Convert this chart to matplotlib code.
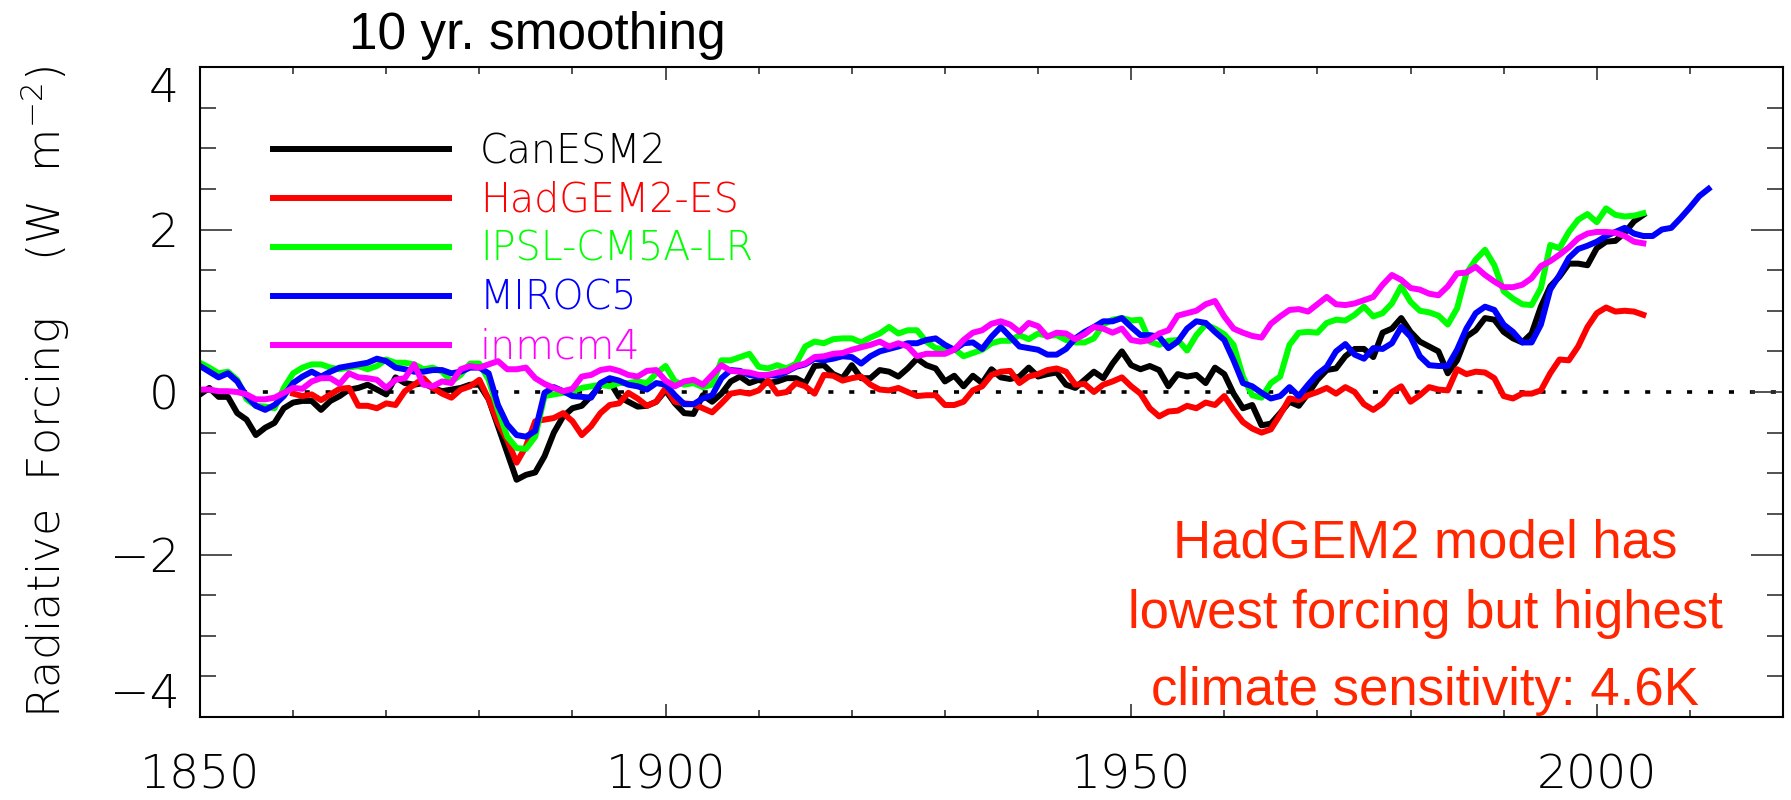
import numpy as np
import matplotlib.pyplot as plt
from matplotlib.ticker import MultipleLocator

plt.rcParams['font.family'] = ['DejaVu Sans']
plt.rcParams['font.weight'] = 'light'

# 10-year smoothed radiative forcing (W m-2), one value per year
can = [-0.03, 0.05, -0.06, -0.06, -0.26, -0.34, -0.53, -0.44, -0.38, -0.20,
       -0.13, -0.11, -0.11, -0.22, -0.11, -0.05, 0.03, 0.05, 0.09, 0.03,
       -0.03, 0.18, 0.11, 0.09, 0.11, 0.05, 0.01, 0.03, 0.05, 0.09,
       0.09, -0.09, -0.42, -0.75, -1.08, -1.02, -0.99, -0.79, -0.50, -0.30,
       -0.20, -0.17, -0.05, 0.08, 0.13, -0.06, -0.12, -0.18, -0.17, -0.12,
       0.02, -0.14, -0.26, -0.27, -0.04, -0.12, -0.02, 0.13, 0.19, 0.11,
       0.15, 0.11, 0.13, 0.17, 0.17, 0.11, 0.32, 0.33, 0.22, 0.17,
       0.33, 0.17, 0.17, 0.27, 0.25, 0.19, 0.29, 0.41, 0.33, 0.29,
       0.13, 0.20, 0.07, 0.20, 0.11, 0.28, 0.18, 0.16, 0.19, 0.30,
       0.19, 0.22, 0.24, 0.09, 0.05, 0.15, 0.25, 0.17, 0.35, 0.50,
       0.33, 0.28, 0.32, 0.27, 0.07, 0.22, 0.19, 0.21, 0.11, 0.30,
       0.22, -0.02, -0.20, -0.16, -0.41, -0.39, -0.26, -0.12, -0.17, -0.02,
       0.15, 0.27, 0.29, 0.44, 0.53, 0.53, 0.43, 0.73, 0.78, 0.91,
       0.74, 0.62, 0.56, 0.50, 0.23, 0.39, 0.68, 0.76, 0.91, 0.89,
       0.74, 0.66, 0.61, 0.72, 1.05, 1.30, 1.42, 1.58, 1.58, 1.56,
       1.77, 1.85, 1.86, 1.96, 2.10, 2.18]

# HadGEM2-ES starts in 1860
had = [-0.02, -0.05, -0.03, -0.10, -0.03, 0.04, 0.05, -0.17, -0.17, -0.20,
       -0.14, -0.16, 0.01, 0.09, 0.17, 0.05, -0.02, -0.07, 0.03, 0.07,
       0.15, -0.09, -0.38, -0.59, -0.87, -0.67, -0.36, -0.34, -0.32, -0.26,
       -0.36, -0.53, -0.42, -0.26, -0.16, -0.14, -0.01, -0.08, -0.17, -0.12,
       0.05, -0.12, -0.14, -0.15, -0.20, -0.25, -0.14, -0.02, 0.00, -0.02,
       0.02, 0.14, -0.02, 0.00, 0.11, 0.07, -0.02, 0.21, 0.20, 0.14,
       0.17, 0.19, 0.09, 0.03, 0.02, 0.05, 0.00, -0.05, -0.04, -0.04,
       -0.16, -0.16, -0.12, 0.02, 0.07, 0.21, 0.25, 0.26, 0.11, 0.19,
       0.22, 0.27, 0.29, 0.25, 0.09, 0.10, 0.00, 0.09, 0.13, 0.18,
       0.07, -0.02, -0.20, -0.30, -0.24, -0.23, -0.17, -0.20, -0.13, -0.16,
       -0.05, -0.22, -0.37, -0.45, -0.50, -0.46, -0.28, -0.08, -0.10, -0.04,
       0.00, 0.05, -0.02, 0.06, 0.00, -0.15, -0.22, -0.14, 0.00, 0.07,
       -0.12, -0.04, 0.06, 0.03, 0.02, 0.28, 0.22, 0.25, 0.24, 0.17,
       -0.05, -0.08, -0.02, -0.02, 0.02, 0.23, 0.40, 0.39, 0.56, 0.80,
       0.97, 1.04, 0.99, 1.00, 0.99, 0.95]

ipsl = [0.36, 0.30, 0.23, 0.25, 0.15, -0.09, -0.17, -0.18, -0.20, 0.05,
        0.23, 0.30, 0.34, 0.34, 0.30, 0.28, 0.30, 0.32, 0.28, 0.32,
        0.40, 0.36, 0.36, 0.34, 0.28, 0.30, 0.25, 0.13, 0.21, 0.35,
        0.35, 0.15, -0.22, -0.55, -0.69, -0.70, -0.55, -0.05, -0.03, -0.01,
        0.01, 0.05, 0.07, 0.09, 0.07, 0.11, 0.11, 0.13, 0.11, 0.23,
        0.32, 0.13, 0.09, 0.11, 0.06, 0.09, 0.39, 0.39, 0.43, 0.47,
        0.31, 0.29, 0.33, 0.29, 0.35, 0.56, 0.62, 0.60, 0.65, 0.66,
        0.66, 0.61, 0.67, 0.72, 0.80, 0.72, 0.76, 0.76, 0.62, 0.54,
        0.53, 0.53, 0.44, 0.48, 0.52, 0.60, 0.63, 0.63, 0.70, 0.65,
        0.72, 0.69, 0.70, 0.64, 0.61, 0.61, 0.66, 0.83, 0.89, 0.91,
        0.88, 0.89, 0.62, 0.58, 0.63, 0.64, 0.51, 0.70, 0.83, 0.78,
        0.71, 0.58, 0.19, -0.04, -0.07, 0.11, 0.19, 0.58, 0.73, 0.74,
        0.73, 0.85, 0.89, 0.88, 0.95, 1.05, 0.93, 0.97, 1.09, 1.30,
        1.11, 1.00, 0.98, 0.94, 0.83, 1.03, 1.46, 1.63, 1.75, 1.56,
        1.24, 1.15, 1.08, 1.07, 1.28, 1.81, 1.77, 1.97, 2.12, 2.19,
        2.09, 2.26, 2.18, 2.16, 2.17, 2.20]

# MIROC5 runs on to 2012
miroc = [0.32, 0.25, 0.18, 0.23, 0.13, -0.05, -0.17, -0.22, -0.16, -0.05,
         0.11, 0.19, 0.25, 0.19, 0.25, 0.30, 0.32, 0.34, 0.36, 0.41,
         0.38, 0.30, 0.28, 0.25, 0.25, 0.27, 0.27, 0.23, 0.25, 0.30,
         0.30, 0.23, -0.16, -0.40, -0.53, -0.55, -0.48, -0.01, 0.06, 0.01,
         -0.05, -0.06, -0.07, 0.11, 0.17, 0.14, 0.09, 0.07, 0.03, 0.11,
         0.09, -0.04, -0.15, -0.15, -0.08, -0.04, 0.17, 0.27, 0.26, 0.21,
         0.19, 0.21, 0.20, 0.25, 0.31, 0.34, 0.41, 0.39, 0.41, 0.44,
         0.43, 0.35, 0.44, 0.50, 0.53, 0.56, 0.60, 0.60, 0.64, 0.66,
         0.58, 0.52, 0.60, 0.61, 0.53, 0.68, 0.80, 0.68, 0.56, 0.54,
         0.52, 0.46, 0.46, 0.53, 0.66, 0.74, 0.80, 0.87, 0.87, 0.91,
         0.80, 0.70, 0.70, 0.68, 0.54, 0.62, 0.78, 0.87, 0.85, 0.74,
         0.64, 0.39, 0.11, 0.07, -0.01, -0.08, -0.05, 0.06, -0.05, 0.09,
         0.22, 0.31, 0.50, 0.59, 0.46, 0.41, 0.54, 0.53, 0.60, 0.80,
         0.68, 0.44, 0.33, 0.32, 0.32, 0.52, 0.78, 0.97, 1.05, 1.01,
         0.83, 0.74, 0.61, 0.61, 0.83, 1.26, 1.44, 1.65, 1.76, 1.80,
         1.85, 1.92, 1.97, 2.02, 1.95, 1.92, 1.92, 2.00, 2.02, 2.14,
         2.27, 2.41, 2.50]

inm = [0.03, 0.03, 0.01, 0.01, 0.00, -0.03, -0.09, -0.09, -0.07, -0.01,
       0.05, 0.04, 0.13, 0.17, 0.17, 0.10, 0.23, 0.18, 0.17, 0.15,
       0.05, 0.15, 0.17, 0.34, 0.09, 0.07, 0.13, 0.11, 0.28, 0.32,
       0.30, 0.34, 0.38, 0.28, 0.28, 0.30, 0.17, 0.10, 0.05, 0.01,
       0.04, 0.19, 0.21, 0.27, 0.29, 0.26, 0.21, 0.19, 0.26, 0.27,
       0.14, 0.07, 0.13, 0.15, 0.09, 0.21, 0.33, 0.26, 0.25, 0.24,
       0.21, 0.21, 0.24, 0.26, 0.32, 0.35, 0.43, 0.44, 0.47, 0.48,
       0.52, 0.55, 0.58, 0.62, 0.56, 0.60, 0.56, 0.44, 0.47, 0.47,
       0.47, 0.52, 0.64, 0.73, 0.76, 0.84, 0.87, 0.83, 0.74, 0.85,
       0.81, 0.68, 0.73, 0.72, 0.65, 0.71, 0.80, 0.78, 0.73, 0.78,
       0.64, 0.62, 0.64, 0.72, 0.76, 0.94, 0.97, 1.00, 1.08, 1.12,
       0.93, 0.78, 0.73, 0.69, 0.67, 0.84, 0.93, 1.01, 1.02, 0.99,
       1.08, 1.17, 1.08, 1.07, 1.09, 1.13, 1.17, 1.32, 1.44, 1.38,
       1.28, 1.26, 1.21, 1.19, 1.30, 1.46, 1.47, 1.54, 1.44, 1.36,
       1.29, 1.29, 1.32, 1.40, 1.55, 1.61, 1.69, 1.78, 1.89, 1.95,
       1.97, 1.97, 1.96, 1.92, 1.85, 1.83]

models = ['CanESM2', 'HadGEM2-ES', 'IPSL-CM5A-LR', 'MIROC5', 'inmcm4']
series = [can, had, ipsl, miroc, inm]
start_years = [1850, 1860, 1850, 1850, 1850]
colors = ['black', '#ff0000', '#00ff00', '#0000ff', '#ff00ff']

note_lines = ['HadGEM2 model has', 'lowest forcing but highest',
              'climate sensitivity: 4.6K']

fig = plt.figure(figsize=(17.91, 8.0), dpi=100)
ax = fig.add_axes([200 / 1791, 1 - 717 / 800, 1583 / 1791, 650 / 800])

ax.axhline(0, color='black', lw=2.6, ls=(0, (1.4, 4.4)), zorder=1)

for name, vals, y0, c in zip(models, series, start_years, colors):
    yrs = np.arange(y0, y0 + len(vals))
    ax.plot(yrs, vals, color=c, lw=4.3, label=name, zorder=2)

ax.set_xlim(1850, 2020)
ax.set_ylim(-4, 4)
ax.set_xticks([1850, 1900, 1950, 2000])
ax.xaxis.set_minor_locator(MultipleLocator(10))
ax.set_yticks([-4, -2, 0, 2, 4])
ax.yaxis.set_minor_locator(MultipleLocator(0.5))

ax.tick_params(axis='both', which='both', direction='in', top=True, right=True,
               color='#333333', width=1.2)
ax.tick_params(axis='x', which='major', length=9.5, pad=26, labelsize=34)
ax.tick_params(axis='x', which='minor', length=4.7)
ax.tick_params(axis='y', which='major', length=23, pad=15, labelsize=34)
ax.tick_params(axis='y', which='minor', length=11.5)
for s in ax.spines.values():
    s.set_linewidth(1.5)

yt = ax.yaxis.get_major_ticks()
yt[0].label1.set_va('bottom')
yt[-1].label1.set_va('top')

ax.set_ylabel('Radiative  Forcing    (W  m$^{-2}$)', fontsize=32,
              fontweight='light')
ax.yaxis.set_label_coords(-0.081, 0.5)

ax.legend(loc='upper left', bbox_to_anchor=(0.0461, 0.900), frameon=False,
          fontsize=28.5, handlelength=4.45, handletextpad=0.78,
          labelspacing=0.25, labelcolor='linecolor', borderaxespad=0,
          borderpad=0)

for txt, yf in zip(note_lines, [0.246, 0.137, 0.0185]):
    ax.text(0.774, yf, txt, transform=ax.transAxes, ha='center', va='baseline',
            color='#ff2600', family='Liberation Sans', weight='normal',
            fontsize=38)

fig.text(349 / 1791, 1 - 49 / 800, '10 yr. smoothing', family='Liberation Sans',
         weight='normal', fontsize=37, ha='left', va='baseline')

fig.savefig('out.png', dpi=100)
